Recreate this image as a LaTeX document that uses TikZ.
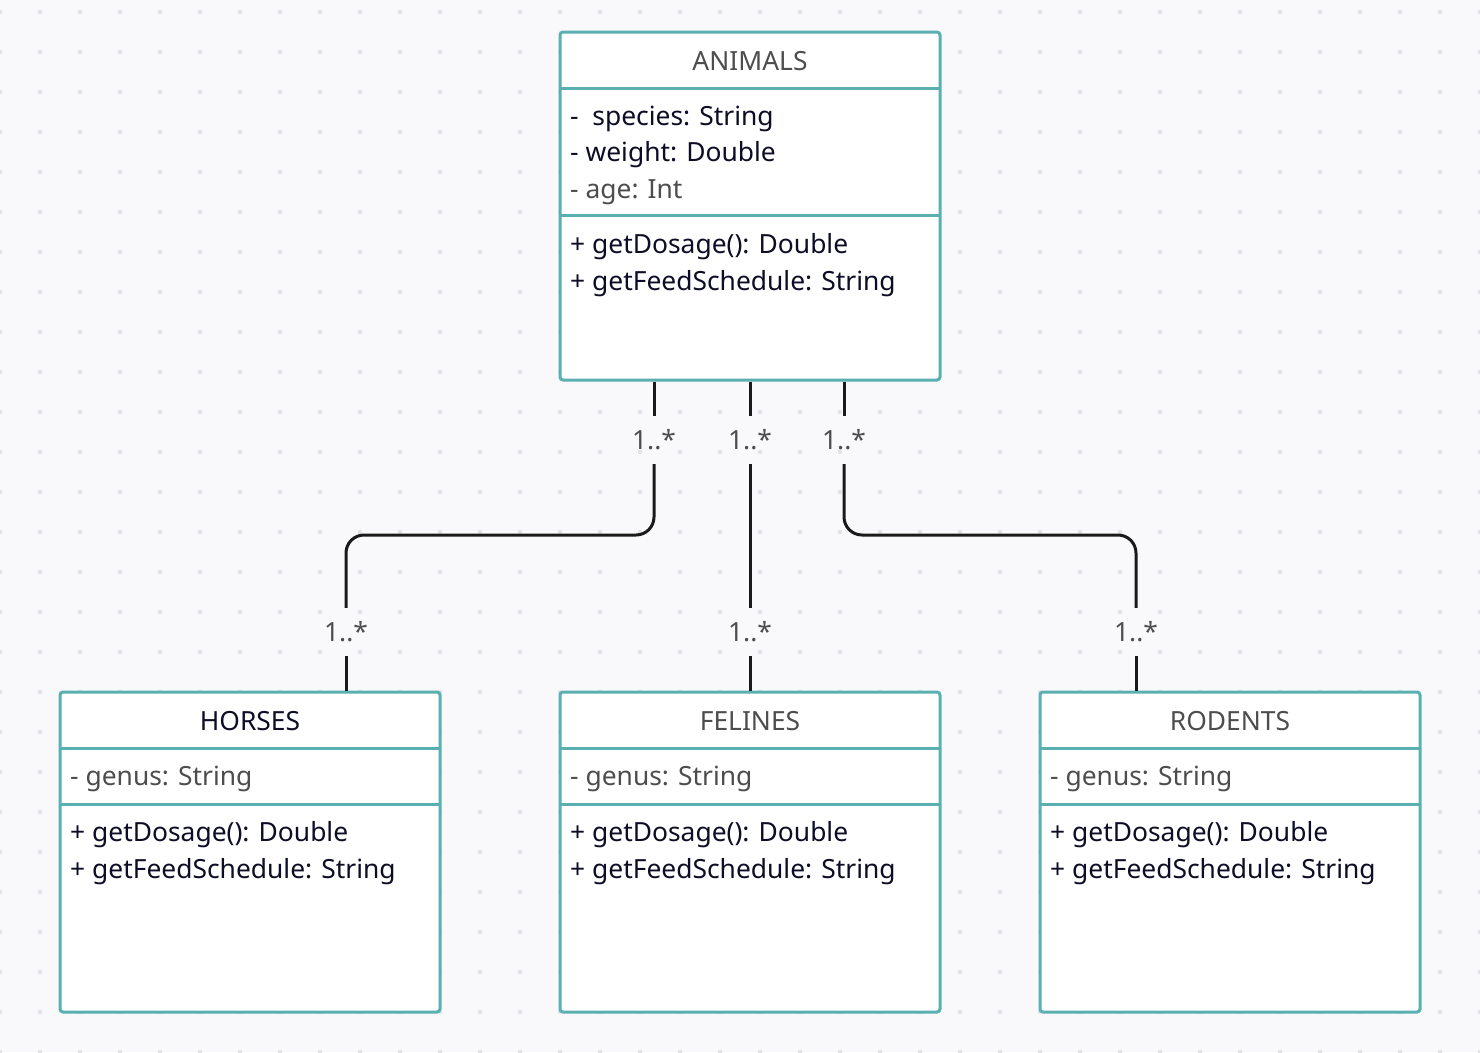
\documentclass[tikz,border=0pt]{standalone}
\usepackage{fontspec}
\setmainfont{Noto Sans}
\usetikzlibrary{calc}
\definecolor{bgcol}{HTML}{F9F9FB}
\definecolor{dotcol}{HTML}{E4E4E8}
\definecolor{teal}{HTML}{5AAFB0}
\definecolor{inkdark}{HTML}{0D0D26}
\definecolor{inkgray}{HTML}{4D4D4D}
\definecolor{wire}{HTML}{1A1A1A}
\tikzset{
  classbox/.style={draw=teal, line width=3pt, fill=white, rounded corners=3pt,
    minimum width=380pt, inner sep=0pt},
  sepline/.style={draw=teal, line width=3pt},
  txt/.style={anchor=base west, inner sep=0pt, font=\fontsize{26.4}{30}\selectfont},
  head/.style={anchor=base, inner sep=0pt, font=\fontsize{26.4}{30}\selectfont},
  mult/.style={inner sep=0pt, minimum height=48pt, minimum width=44pt,
    text=inkgray, font=\fontsize{26.4}{30}\selectfont},
  conn/.style={draw=wire, line width=3pt, rounded corners=18pt},
}
\begin{document}
\begin{tikzpicture}[x=1pt,y=-1pt]
% canvas and dot grid
\fill[bgcol] (0,0) rectangle (1480,1052);
\useasboundingbox (0,0) rectangle (1480,1052);
\foreach \gx in {0,40,...,1480}{
  \foreach \gy in {12,52,...,1052}{
    \fill[dotcol] (\gx,\gy) circle (2.3);
  }
}

% ---- ANIMALS ----
\node[classbox, minimum height=348pt] (animals) at (750,206) {};
\draw[sepline] (560,88) -- (940,88);
\draw[sepline] (560,215) -- (940,215);
\node[head, text=inkgray] (animalsT) at (750,70) {ANIMALS};
\node[txt, text=inkdark] (a1) at (570,125) {-\ \ species: String};
\node[txt, text=inkdark] (a2) at (570,161.5) {- weight: Double};
\node[txt, text=inkgray] (a3) at (570,198) {- age: Int};
\node[txt, text=inkdark] (a4) at (570,253.5) {+ getDosage(): Double};
\node[txt, text=inkdark] (a5) at (570,290) {+ getFeedSchedule: String};

% ---- subclasses ----
\foreach \nm/\cx/\title/\tcol in {horses/250/HORSES/inkdark, felines/750/FELINES/inkgray, rodents/1230/RODENTS/inkgray}{
  \node[classbox, minimum height=320pt] (\nm) at (\cx,852) {};
  \draw[sepline] (\cx-190,748) -- (\cx+190,748);
  \draw[sepline] (\cx-190,804) -- (\cx+190,804);
  \node[head, text=\tcol] (\nm T) at (\cx,730) {\title};
  \node[txt, text=inkgray] (\nm G) at (\cx-180,785) {- genus: String};
  \node[txt, text=inkdark] (\nm D) at (\cx-180,841.5) {+ getDosage(): Double};
  \node[txt, text=inkdark] (\nm F) at (\cx-180,878) {+ getFeedSchedule: String};
}

% ---- multiplicity labels ----
\node[mult] (m1) at (654,440) {1..*};
\node[mult] (m2) at (750,440) {1..*};
\node[mult] (m3) at (844,440) {1..*};
\node[mult] (m4) at (346,632) {1..*};
\node[mult] (m5) at (750,632) {1..*};
\node[mult] (m6) at (1136,632) {1..*};
\coordinate (j1) at (346,535);
\coordinate (j3) at (1136,535);

% ---- associations ----
\draw[conn] (animals.south -| m1) -- (m1.north);
\draw[conn] (m1.south) |- (j1) -- (m4.north);
\draw[conn] (m4.south) -- (horses.north -| m4);

\draw[conn] (animals.south -| m2) -- (m2.north);
\draw[conn] (m2.south) -- (m5.north);
\draw[conn] (m5.south) -- (felines.north -| m5);

\draw[conn] (animals.south -| m3) -- (m3.north);
\draw[conn] (m3.south) |- (j3) -- (m6.north);
\draw[conn] (m6.south) -- (rodents.north -| m6);
\end{tikzpicture}
\end{document}
